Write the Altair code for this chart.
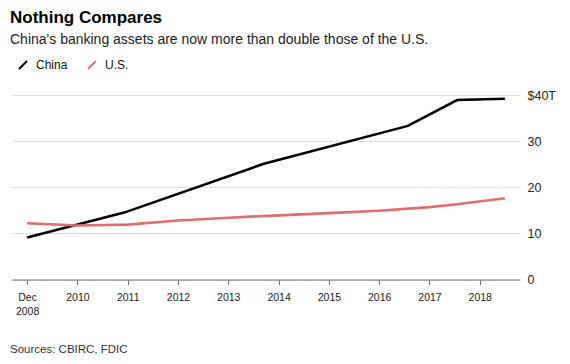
import altair as alt
import pandas as pd

# ---- data ----
china_x = [2009.00, 2010.93, 2013.71, 2016.57, 2017.55, 2018.50]
china_v = [9.1, 14.5, 25.1, 33.3, 38.9, 39.2]

us_x = [2009.0, 2010.0, 2011.0, 2012.0, 2013.0, 2014.0, 2015.0, 2016.0, 2017.0, 2017.55, 2018.5]
us_v = [12.2, 11.7, 11.9, 12.8, 13.4, 13.9, 14.4, 14.9, 15.7, 16.3, 17.6]

series_names = ["China", "U.S."]
series_colors = ["#000000", "#e06c6c"]

x_ticks = [2009, 2010, 2011, 2012, 2013, 2014, 2015, 2016, 2017, 2018]
y_ticks = [0, 10, 20, 30, 40]

title_text = "Nothing Compares"
subtitle_text = "China's banking assets are now more than double those of the U.S."
source_text = "Sources: CBIRC, FDIC"

df = pd.DataFrame(
    {
        "series": ["China"] * len(china_x) + ["U.S."] * len(us_x),
        "year": china_x + us_x,
        "value": china_v + us_v,
    }
)

W, H = 508, 184.5
FONT = "Liberation Sans, Arial, sans-serif"

lines = (
    alt.Chart(df)
    .mark_line(strokeWidth=2.6, strokeJoin="miter")
    .encode(
        x=alt.X(
            "year:Q",
            scale=alt.Scale(domain=[2008.70, 2018.80], nice=False, zero=False),
            axis=alt.Axis(
                values=x_ticks,
                title=None,
                grid=False,
                domainColor="#777777",
                tickColor="#777777",
                tickSize=5,
                labelFontSize=10.5,
                labelColor="#222222",
                labelPadding=8,
                labelLineHeight=14,
                labelExpr="datum.value == 2009 ? ['Dec', '2008'] : format(datum.value, 'd')",
            ),
        ),
        y=alt.Y(
            "value:Q",
            scale=alt.Scale(domain=[0, 40], nice=False),
            axis=alt.Axis(
                orient="right",
                values=y_ticks,
                title=None,
                domain=False,
                ticks=False,
                grid=True,
                gridColor="#dddddd",
                labelFontSize=12.5,
                labelColor="#222222",
                labelPadding=7,
                labelExpr="datum.value == 40 ? '$40T' : datum.label",
            ),
        ),
        color=alt.Color(
            "series:N",
            scale=alt.Scale(domain=series_names, range=series_colors),
            legend=alt.Legend(
                title=None,
                orient="none",
                legendX=5,
                legendY=-36,
                direction="horizontal",
                symbolType="M-1,1L1,-1",
                symbolSize=64,
                symbolStrokeWidth=2,
                labelFontSize=12,
                labelColor="#111111",
                labelOffset=7,
                columnPadding=16,
                padding=0,
            ),
        ),
        detail="series:N",
    )
)

def text_layer(txt, y, size, weight="normal", color="#111111"):
    return (
        alt.Chart(pd.DataFrame({"t": [txt]}))
        .mark_text(
            align="left",
            baseline="alphabetic",
            fontSize=size,
            fontWeight=weight,
            color=color,
            font=FONT,
        )
        .encode(x=alt.value(-2), y=alt.value(y), text="t:N")
    )

title = text_layer(title_text, -72, 17, "bold", "#000000")
subtitle = text_layer(subtitle_text, -51, 14, "normal", "#222222")
source = text_layer(source_text, 258, 11.5, "normal", "#333333")

chart = (
    alt.layer(lines, title, subtitle, source)
    .properties(
        width=W,
        height=H,
        autosize=alt.AutoSizeParams(type="none"),
        padding={"left": 4, "top": 87, "right": 42, "bottom": 76},
    )
    .configure(font=FONT, view=alt.ViewConfig(strokeWidth=0, stroke="transparent"))
)

chart.save("out.html", embed_options={"renderer": "svg", "actions": False})
